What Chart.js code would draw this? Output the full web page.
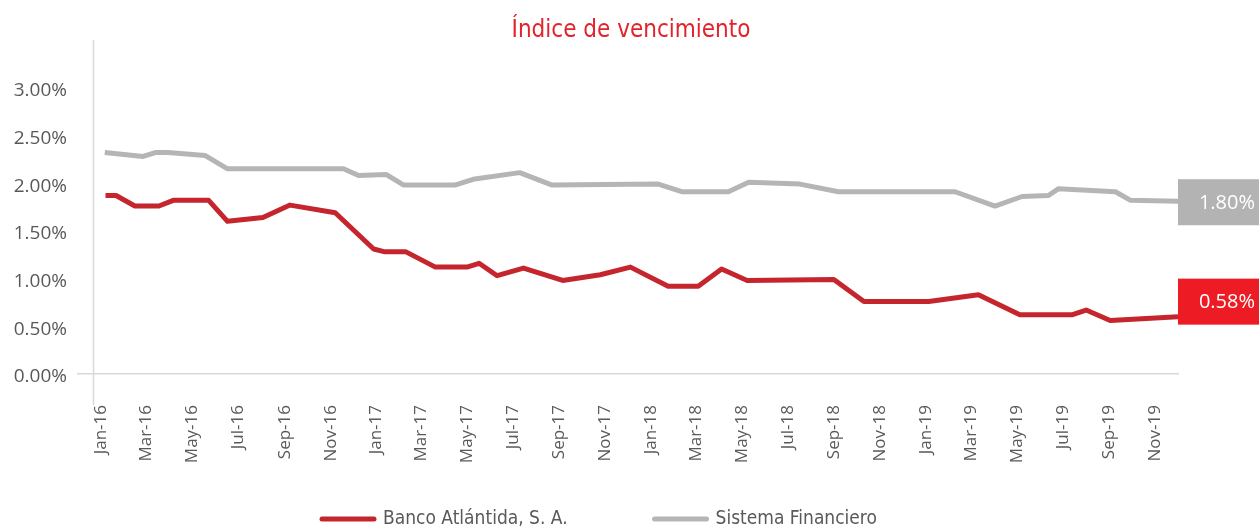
<!DOCTYPE html>
<html>
<head>
<meta charset="utf-8">
<title>Índice de vencimiento</title>
<script src="https://cdn.jsdelivr.net/npm/chart.js@4.4.0/dist/chart.umd.min.js"></script>
<style>
  body { margin: 0; background: #ffffff; }
  #wrap { width: 1259px; height: 529px; }
</style>
</head>
<body>
<div id="wrap"><canvas id="vencimiento-chart" width="1259" height="529"></canvas></div>
<script>
// Tick labels on the date axis (every second month)
const tickLabels = ['Jan-16', 'Mar-16', 'May-16', 'Jul-16', 'Sep-16', 'Nov-16',
    'Jan-17', 'Mar-17', 'May-17', 'Jul-17', 'Sep-17', 'Nov-17',
    'Jan-18', 'Mar-18', 'May-18', 'Jul-18', 'Sep-18', 'Nov-18',
    'Jan-19', 'Mar-19', 'May-19', 'Jul-19', 'Sep-19', 'Nov-19'];
const yTicks = [0, 0.5, 1, 1.5, 2, 2.5, 3];

// Banco Atlántida, S. A. (%)
const bancoDates = ['2016-01-07', '2016-01-21', '2016-02-15', '2016-03-18', '2016-04-06', '2016-05-23',
    '2016-06-17', '2016-08-03', '2016-09-08', '2016-11-07', '2016-12-28', '2017-01-12',
    '2017-02-09', '2017-03-20', '2017-05-01', '2017-05-17', '2017-06-10', '2017-07-15',
    '2017-09-05', '2017-10-25', '2017-12-04', '2018-01-23', '2018-03-04', '2018-04-04',
    '2018-05-08', '2018-08-31', '2018-10-10', '2019-01-04', '2019-03-11', '2019-05-05',
    '2019-07-13', '2019-08-01', '2019-09-02', '2019-12-01'];
const bancoValues = [1.87, 1.87, 1.76, 1.76, 1.82, 1.82,
    1.60, 1.64, 1.77, 1.69, 1.31, 1.28,
    1.28, 1.12, 1.12, 1.16, 1.03, 1.11,
    0.98, 1.04, 1.12, 0.92, 0.92, 1.10,
    0.98, 0.99, 0.76, 0.76, 0.83, 0.62,
    0.62, 0.67, 0.56, 0.60];

// Sistema Financiero (%)
const sistemaDates = ['2016-01-06', '2016-02-26', '2016-03-13', '2016-03-30', '2016-05-18', '2016-06-17',
    '2016-11-18', '2016-12-08', '2017-01-14', '2017-02-06', '2017-04-15', '2017-05-09',
    '2017-07-10', '2017-08-22', '2018-01-10', '2018-02-10', '2018-04-13', '2018-05-10',
    '2018-07-17', '2018-09-06', '2019-02-08', '2019-04-02', '2019-05-08', '2019-06-12',
    '2019-06-25', '2019-09-09', '2019-09-29', '2019-12-01'];
const sistemaValues = [2.32, 2.28, 2.32, 2.32, 2.29, 2.15,
    2.15, 2.08, 2.09, 1.98, 1.98, 2.04,
    2.11, 1.98, 1.99, 1.91, 1.91, 2.01,
    1.99, 1.91, 1.91, 1.76, 1.86, 1.87,
    1.94, 1.91, 1.82, 1.81];

// Last values written in the boxes on the right
const endTexts = ['0.58%', '1.80%'];
const endValues = [0.58, 1.80];

const monthNames = ['Jan', 'Feb', 'Mar', 'Apr', 'May', 'Jun', 'Jul', 'Aug', 'Sep', 'Oct', 'Nov', 'Dec'];
const origin = Date.UTC(2016, 0, 1);
const DAY = 86400000;

function dayOf(str) {
    const p = str.split('-').map(Number);
    return (Date.UTC(p[0], p[1] - 1, p[2]) - origin) / DAY;
}

function tickDay(label) {
    const p = label.split('-');
    return (Date.UTC(2000 + Number(p[1]), monthNames.indexOf(p[0]), 1) - origin) / DAY;
}

const RED = '#c5262e';
const GREY = '#b5b5b5';
const TEXT = '#595959';
const narrow = "'Liberation Sans Narrow', 'DejaVu Sans Condensed', sans-serif";

// Title, value axis line, end boxes and legend
const decorations = {
    id: 'decorations',
    beforeDatasetsDraw(chart) {
        const ctx = chart.ctx;
        const area = chart.chartArea;
        const ax = Math.round(chart.scales.x.getPixelForValue(-10)) + 0.5;
        ctx.save();
        ctx.strokeStyle = '#d9d9d9';
        ctx.lineWidth = 1.5;
        ctx.beginPath();
        ctx.moveTo(ax, area.top);
        ctx.lineTo(ax, area.bottom + 31);
        ctx.stroke();
        ctx.restore();
    },
    afterDraw(chart) {
        const ctx = chart.ctx;
        const area = chart.chartArea;
        const yScale = chart.scales.y;
        ctx.save();

        // title
        ctx.fillStyle = '#e3222b';
        ctx.font = '24px ' + narrow;
        ctx.textAlign = 'center';
        ctx.textBaseline = 'middle';
        ctx.fillText('Índice de vencimiento', 631, 31);

        // end boxes
        const boxColors = ['#ed1c24', '#b3b3b3'];
        const shifts = [-17, 0];
        endValues.forEach((v, i) => {
            const yc = yScale.getPixelForValue(v) + shifts[i];
            ctx.fillStyle = boxColors[i];
            ctx.fillRect(area.right, yc - 23, chart.width - area.right, 46);
            ctx.fillStyle = '#ffffff';
            ctx.font = "20px 'Open Sans', sans-serif";
            ctx.textAlign = 'right';
            ctx.textBaseline = 'middle';
            ctx.fillText(endTexts[i], chart.width - 4, yc + 1);
        });

        // legend
        ctx.font = '19px ' + narrow;
        ctx.textAlign = 'left';
        ctx.textBaseline = 'middle';
        let lx = 320;
        const ly = 519;
        chart.data.datasets.forEach(ds => {
            ctx.strokeStyle = ds.borderColor;
            ctx.lineWidth = 5;
            ctx.lineCap = 'round';
            ctx.beginPath();
            ctx.moveTo(lx + 2, ly);
            ctx.lineTo(lx + 54, ly);
            ctx.stroke();
            ctx.fillStyle = TEXT;
            ctx.fillText(ds.label, lx + 63, ly);
            lx += 63 + ctx.measureText(ds.label).width + 85;
        });
        ctx.restore();
    }
};

const ctxVenc = document.getElementById('vencimiento-chart').getContext('2d');
new Chart(ctxVenc, {
    type: 'line',
    data: {
        datasets: [{
            label: 'Banco Atlántida, S. A.',
            data: bancoDates.map((d, i) => ({x: dayOf(d), y: bancoValues[i]})),
            borderColor: RED,
            backgroundColor: RED,
            borderWidth: 5,
            borderJoinStyle: 'round',
            pointRadius: 0,
            tension: 0
        }, {
            label: 'Sistema Financiero',
            data: sistemaDates.map((d, i) => ({x: dayOf(d), y: sistemaValues[i]})),
            borderColor: GREY,
            backgroundColor: GREY,
            borderWidth: 5,
            borderJoinStyle: 'round',
            pointRadius: 0,
            tension: 0
        }]
    },
    options: {
        responsive: false,
        animation: false,
        layout: {
            padding: {top: 40, right: 81, bottom: 0, left: 0}
        },
        plugins: {
            legend: {display: false},
            title: {display: false},
            tooltip: {enabled: false}
        },
        scales: {
            x: {
                type: 'linear',
                min: -30.5,
                max: 1430,
                grid: {display: false},
                border: {display: true, color: '#d9d9d9', width: 1.5},
                afterBuildTicks: scale => {
                    scale.ticks = tickLabels.map(l => ({value: tickDay(l)}));
                },
                afterFit: scale => { scale.height = 155; },
                ticks: {
                    autoSkip: false,
                    maxRotation: 90,
                    minRotation: 90,
                    padding: 23,
                    color: TEXT,
                    font: {family: "'Open Sans', sans-serif", size: 17},
                    callback: (v, i) => tickLabels[i]
                }
            },
            y: {
                min: 0,
                max: 3.5,
                grid: {display: false},
                border: {display: false},
                afterBuildTicks: scale => {
                    scale.ticks = yTicks.concat([3.5]).map(v => ({value: v}));
                },
                afterFit: scale => { scale.width = 78; },
                ticks: {
                    padding: 3,
                    labelOffset: 3,
                    color: TEXT,
                    font: {family: "'Open Sans', sans-serif", size: 19},
                    callback: v => yTicks.includes(v) ? v.toFixed(2) + '%' : ''
                }
            }
        }
    },
    plugins: [decorations]
});
</script>
</body>
</html>
